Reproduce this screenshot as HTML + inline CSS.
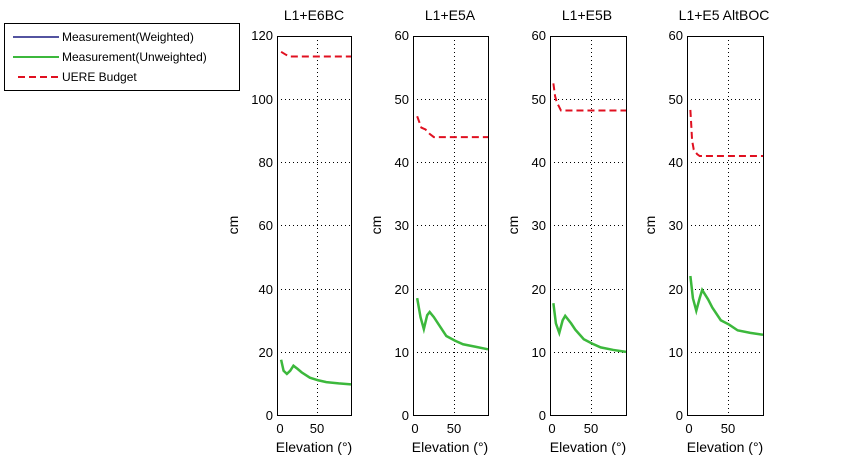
<!DOCTYPE html>
<html><head><style>
html,body{margin:0;padding:0;background:#fff;}
svg text{font-family:"Liberation Sans",sans-serif;font-size:13px;fill:#000;}
svg text.t{font-size:14px;}
svg text.l{font-size:12px;}
</style></head><body>
<svg width="841" height="466" xmlns="http://www.w3.org/2000/svg">
<rect width="841" height="466" fill="#fff"/>
<!-- legend -->
<rect x="4.5" y="23.5" width="235" height="67" fill="#fff" stroke="#000"/>
<line x1="13" y1="37" x2="59" y2="37" stroke="#1a1a80" stroke-width="1.5"/>
<line x1="13" y1="57" x2="59" y2="57" stroke="#3cb83c" stroke-width="2"/>
<line x1="18" y1="77" x2="59" y2="77" stroke="#e01020" stroke-width="2" stroke-dasharray="7,4"/>
<text class="l" x="62" y="41">Measurement(Weighted)</text>
<text class="l" x="62" y="61">Measurement(Unweighted)</text>
<text class="l" x="62" y="81">UERE Budget</text>

<!-- plot 1 -->
<g>
<text class="t" x="314" y="20" text-anchor="middle">L1+E6BC</text>
<g stroke="#000" stroke-dasharray="1,3" stroke-width="1">
<line x1="317.5" y1="36" x2="317.5" y2="415"/>
<line x1="277" y1="99.5" x2="351" y2="99.5"/><line x1="277" y1="162.5" x2="351" y2="162.5"/><line x1="277" y1="225.5" x2="351" y2="225.5"/><line x1="277" y1="289.5" x2="351" y2="289.5"/><line x1="277" y1="352.5" x2="351" y2="352.5"/>
</g>
<svg x="277" y="36" width="74" height="379" viewBox="0 -120 90 120" preserveAspectRatio="none" overflow="visible">
<polyline fill="none" stroke="#e01020" stroke-width="2" stroke-dasharray="7,4" vector-effect="non-scaling-stroke" points="5,-115 10,-114.2 15,-113.5 90,-113.5"/>
<polyline fill="none" stroke="#3cb83c" stroke-width="2.5" vector-effect="non-scaling-stroke" points="5,-17.5 8,-14 12,-13 16,-14 20,-15.6 25,-14.6 30,-13.5 40,-11.8 50,-11 60,-10.4 75,-10 90,-9.7"/>
</svg>
<rect x="277.5" y="36.5" width="74" height="379" fill="none" stroke="#000"/>
<g text-anchor="end"><text x="273" y="40">120</text><text x="273" y="104">100</text><text x="273" y="167">80</text><text x="273" y="230">60</text><text x="273" y="294">40</text><text x="273" y="357">20</text><text x="273" y="420">0</text></g>
<text x="280" y="433" text-anchor="middle">0</text><text x="317" y="433" text-anchor="middle">50</text>
<text class="t" x="314" y="452" text-anchor="middle">Elevation (°)</text>
<text class="t" transform="translate(238,225) rotate(-90)" text-anchor="middle">cm</text>
</g>

<!-- plot 2 -->
<g>
<text class="t" x="450" y="20" text-anchor="middle">L1+E5A</text>
<g stroke="#000" stroke-dasharray="1,3">
<line x1="454.5" y1="36" x2="454.5" y2="415"/>
<line x1="413" y1="99.5" x2="488" y2="99.5"/><line x1="413" y1="162.5" x2="488" y2="162.5"/><line x1="413" y1="225.5" x2="488" y2="225.5"/><line x1="413" y1="289.5" x2="488" y2="289.5"/><line x1="413" y1="352.5" x2="488" y2="352.5"/>
</g>
<svg x="413" y="36" width="75" height="379" viewBox="0 -60 90 60" preserveAspectRatio="none" overflow="visible">
<polyline fill="none" stroke="#e01020" stroke-width="2" stroke-dasharray="7,4" vector-effect="non-scaling-stroke" points="5,-47.3 10,-45.5 15,-45.2 20,-44.5 25,-44 90,-44"/>
<polyline fill="none" stroke="#3cb83c" stroke-width="2.5" vector-effect="non-scaling-stroke" points="5,-18.5 9,-15.5 13,-13.6 17,-15.8 20,-16.3 25,-15.5 30,-14.5 40,-12.5 50,-11.8 60,-11.2 75,-10.8 90,-10.4"/>
</svg>
<rect x="413.5" y="36.5" width="75" height="379" fill="none" stroke="#000"/>
<g text-anchor="end"><text x="409" y="40">60</text><text x="409" y="104">50</text><text x="409" y="167">40</text><text x="409" y="230">30</text><text x="409" y="294">20</text><text x="409" y="357">10</text><text x="409" y="420">0</text></g>
<text x="415" y="433" text-anchor="middle">0</text><text x="454" y="433" text-anchor="middle">50</text>
<text class="t" x="450" y="452" text-anchor="middle">Elevation (°)</text>
<text class="t" transform="translate(381,225) rotate(-90)" text-anchor="middle">cm</text>
</g>

<!-- plot 3 -->
<g>
<text class="t" x="587" y="20" text-anchor="middle">L1+E5B</text>
<g stroke="#000" stroke-dasharray="1,3">
<line x1="591.5" y1="36" x2="591.5" y2="415"/>
<line x1="550" y1="99.5" x2="626" y2="99.5"/><line x1="550" y1="162.5" x2="626" y2="162.5"/><line x1="550" y1="225.5" x2="626" y2="225.5"/><line x1="550" y1="289.5" x2="626" y2="289.5"/><line x1="550" y1="352.5" x2="626" y2="352.5"/>
</g>
<svg x="550" y="36" width="76" height="379" viewBox="0 -60 90 60" preserveAspectRatio="none" overflow="visible">
<polyline fill="none" stroke="#e01020" stroke-width="2" stroke-dasharray="7,4" vector-effect="non-scaling-stroke" points="4,-52.5 6,-50.5 8,-49.5 10,-49 13,-48.2 90,-48.2"/>
<polyline fill="none" stroke="#3cb83c" stroke-width="2.5" vector-effect="non-scaling-stroke" points="4,-17.7 7,-14.5 11,-13 15,-15 18,-15.7 25,-14.5 30,-13.5 40,-12 50,-11.3 60,-10.7 75,-10.3 90,-10"/>
</svg>
<rect x="550.5" y="36.5" width="76" height="379" fill="none" stroke="#000"/>
<g text-anchor="end"><text x="546" y="40">60</text><text x="546" y="104">50</text><text x="546" y="167">40</text><text x="546" y="230">30</text><text x="546" y="294">20</text><text x="546" y="357">10</text><text x="546" y="420">0</text></g>
<text x="552" y="433" text-anchor="middle">0</text><text x="591" y="433" text-anchor="middle">50</text>
<text class="t" x="588" y="452" text-anchor="middle">Elevation (°)</text>
<text class="t" transform="translate(518,225) rotate(-90)" text-anchor="middle">cm</text>
</g>

<!-- plot 4 -->
<g>
<text class="t" x="724" y="20" text-anchor="middle">L1+E5 AltBOC</text>
<g stroke="#000" stroke-dasharray="1,3">
<line x1="728.5" y1="36" x2="728.5" y2="415"/>
<line x1="687" y1="99.5" x2="763" y2="99.5"/><line x1="687" y1="162.5" x2="763" y2="162.5"/><line x1="687" y1="225.5" x2="763" y2="225.5"/><line x1="687" y1="289.5" x2="763" y2="289.5"/><line x1="687" y1="352.5" x2="763" y2="352.5"/>
</g>
<svg x="687" y="36" width="76" height="379" viewBox="0 -60 90 60" preserveAspectRatio="none" overflow="visible">
<polyline fill="none" stroke="#e01020" stroke-width="2" stroke-dasharray="7,4" vector-effect="non-scaling-stroke" points="4,-48.3 5,-46 6,-43.5 8,-42 12,-41.3 15,-41 90,-41"/>
<polyline fill="none" stroke="#3cb83c" stroke-width="2.5" vector-effect="non-scaling-stroke" points="4,-22 7,-18.5 11,-16.5 15,-18.5 18,-19.8 25,-18.3 30,-17 40,-15 50,-14.3 60,-13.4 75,-13 90,-12.7"/>
</svg>
<rect x="687.5" y="36.5" width="76" height="379" fill="none" stroke="#000"/>
<g text-anchor="end"><text x="683" y="40">60</text><text x="683" y="104">50</text><text x="683" y="167">40</text><text x="683" y="230">30</text><text x="683" y="294">20</text><text x="683" y="357">10</text><text x="683" y="420">0</text></g>
<text x="689" y="433" text-anchor="middle">0</text><text x="728" y="433" text-anchor="middle">50</text>
<text class="t" x="725" y="452" text-anchor="middle">Elevation (°)</text>
<text class="t" transform="translate(655,225) rotate(-90)" text-anchor="middle">cm</text>
</g>
</svg>
</body></html>
